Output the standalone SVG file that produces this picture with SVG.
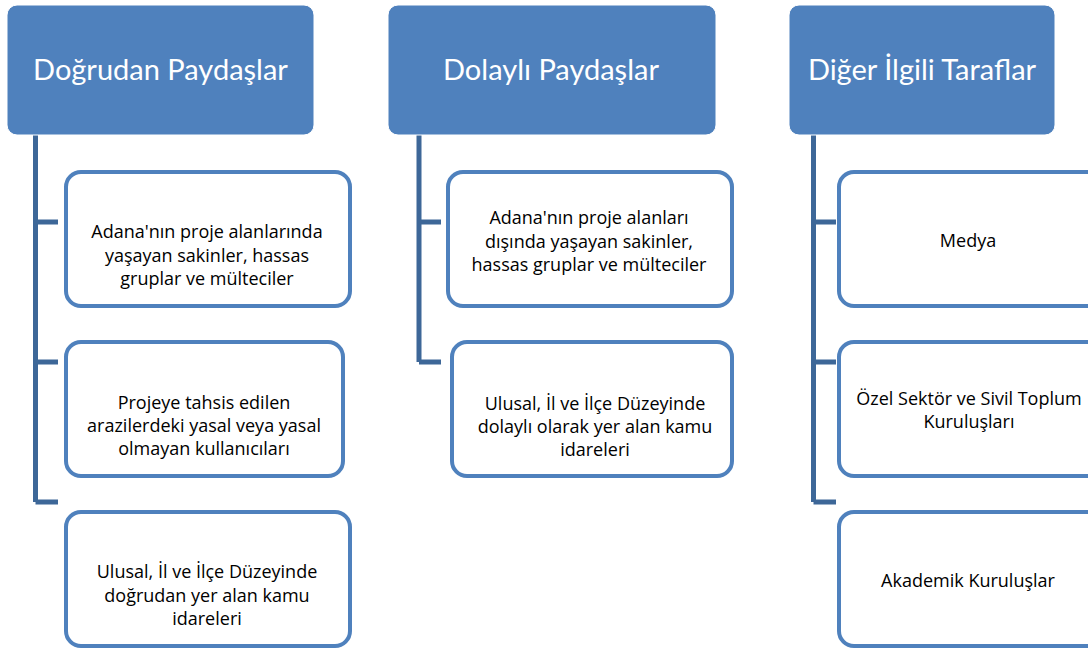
<svg xmlns="http://www.w3.org/2000/svg" width="1088" height="649" viewBox="0 0 1088 649">
<style>
.hdr{fill:#4F81BD;stroke:#FFFFFF;stroke-width:1}
.ht{font-family:Lato,"Open Sans","Liberation Sans",sans-serif;font-size:29px;fill:#FFFFFF;text-anchor:middle}
.box{fill:#FFFFFF;stroke:#4F81BD;stroke-width:4}
.bt{font-family:"Open Sans",Lato,"Liberation Sans",sans-serif;font-size:18px;fill:#000000;text-anchor:middle}
.con{fill:none;stroke:#3D6798;stroke-width:5}
</style>
<rect width="1088" height="649" fill="#FFFFFF"/>
<g id="connectors">
<path class="con" d="M35.5,135 V502 M35.5,222 H58 M35.5,362 H58 M35.5,502 H58"/>
<path class="con" d="M419,135 V362 M419,222 H441 M419,362 H441"/>
<path class="con" d="M813.5,135 V502 M813.5,222 H836 M813.5,362 H836 M813.5,502 H836"/>
</g>
<g id="h1"><rect class="hdr" x="7" y="5" width="307" height="130" rx="10"/><text class="ht" x="160.5" y="80">Doğrudan Paydaşlar</text></g>
<g id="h2"><rect class="hdr" x="388" y="5" width="328" height="130" rx="10"/><text class="ht" x="551" y="80">Dolaylı Paydaşlar</text></g>
<g id="h3"><rect class="hdr" x="789" y="5" width="266" height="130" rx="10"/><text class="ht" x="922" y="80">Diğer İlgili Taraflar</text></g>
<g id="c1b1"><rect class="box" x="66" y="172" width="284" height="134" rx="15"/><text class="bt" x="207" y="238"><tspan x="207">Adana'nın proje alanlarında</tspan><tspan x="207" dy="23.5">yaşayan sakinler, hassas</tspan><tspan x="207" dy="23.5">gruplar ve mülteciler</tspan></text></g>
<g id="c1b2"><rect class="box" x="66" y="342" width="277" height="134" rx="15"/><text class="bt" x="204" y="409"><tspan x="204">Projeye tahsis edilen</tspan><tspan x="204" dy="23">arazilerdeki yasal veya yasal</tspan><tspan x="204" dy="23">olmayan kullanıcıları</tspan></text></g>
<g id="c1b3"><rect class="box" x="66" y="512" width="284" height="134" rx="15"/><text class="bt" x="207" y="578"><tspan x="207">Ulusal, İl ve İlçe Düzeyinde</tspan><tspan x="207" dy="23.5">doğrudan yer alan kamu</tspan><tspan x="207" dy="23.5">idareleri</tspan></text></g>
<g id="c2b1"><rect class="box" x="448" y="172" width="284" height="134" rx="15"/><text class="bt" x="589" y="224"><tspan x="589">Adana'nın proje alanları</tspan><tspan x="589" dy="23.5">dışında yaşayan sakinler,</tspan><tspan x="589" dy="23.5">hassas gruplar ve mülteciler</tspan></text></g>
<g id="c2b2"><rect class="box" x="452" y="342" width="280" height="134" rx="15"/><text class="bt" x="595" y="410"><tspan x="595">Ulusal, İl ve İlçe Düzeyinde</tspan><tspan x="595" dy="23">dolaylı olarak yer alan kamu</tspan><tspan x="595" dy="23">idareleri</tspan></text></g>
<g id="c3b1"><rect class="box" x="839" y="172" width="284" height="134" rx="15"/><text class="bt" x="968" y="247">Medya</text></g>
<g id="c3b2"><rect class="box" x="839" y="342" width="284" height="134" rx="15"/><text class="bt" x="969" y="405"><tspan x="969">Özel Sektör ve Sivil Toplum</tspan><tspan x="969" dy="23">Kuruluşları</tspan></text></g>
<g id="c3b3"><rect class="box" x="839" y="512" width="284" height="134" rx="15"/><text class="bt" x="968" y="587">Akademik Kuruluşlar</text></g>
</svg>
